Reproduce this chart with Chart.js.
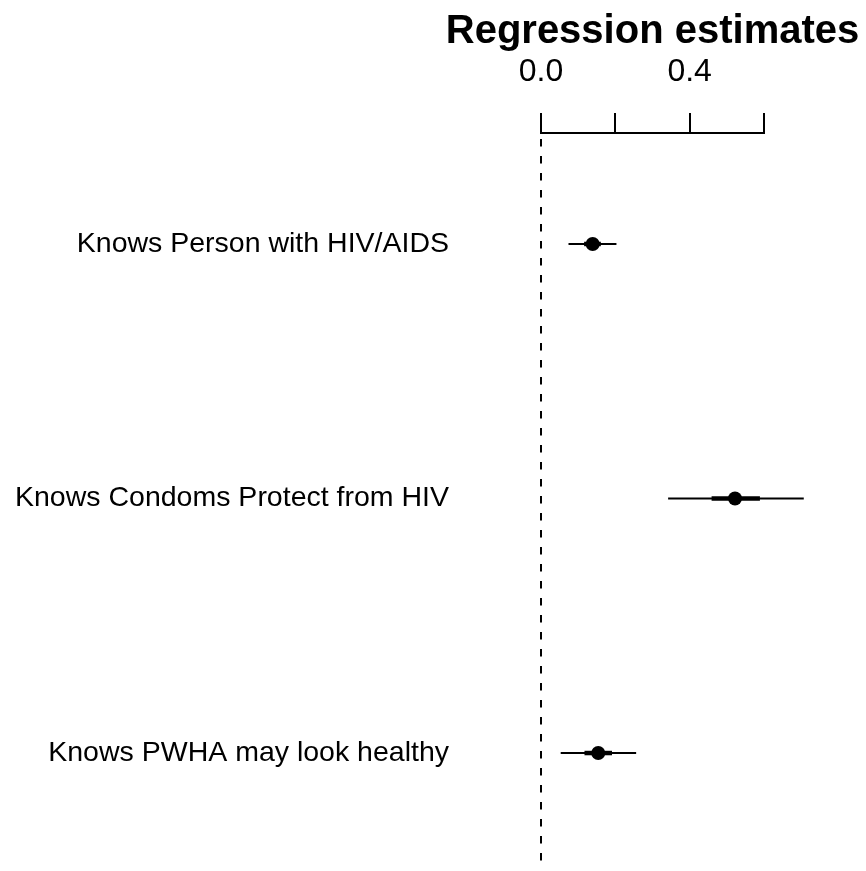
<!DOCTYPE html>
<html>
<head>
<meta charset="utf-8">
<script src="https://cdn.jsdelivr.net/npm/chart.js@4/dist/chart.umd.min.js"></script>
<style>
  html, body { margin: 0; padding: 0; background: #ffffff; }
  #wrap { width: 866px; height: 871px; }
</style>
</head>
<body>
<div id="wrap"><canvas id="c" width="866" height="871"></canvas></div>
<script>
// ---- data ----
const categories = ["Knows Person with HIV/AIDS", "Knows Condoms Protect from HIV", "Knows PWHA may look healthy"];
const estimates  = [0.139, 0.522, 0.154];
const outerLow   = [0.074, 0.342, 0.053];   // thin whisker (about ±2 SE)
const outerHigh  = [0.203, 0.707, 0.256];
const innerLow   = [0.116, 0.459, 0.117];   // thick whisker (about ±1 SE)
const innerHigh  = [0.161, 0.589, 0.191];
const xTickValues = [0.0, 0.2, 0.4, 0.6];
const xTickLabels = ["0.0", "", "0.4", ""];
const rowPositions = [1, 2, 3];
const yLimits = [0.564, 3.436];
const titleText = "Regression estimates";

const FONT = "'Liberation Sans', Arial, Helvetica, sans-serif";

const datasets = [];
// zero reference line
datasets.push({
  type: 'line',
  data: [{x: 0, y: yLimits[0]}, {x: 0, y: yLimits[1]}],
  borderColor: '#000', borderWidth: 2, borderDash: [7.5, 9.5], borderDashOffset: 11,
  pointRadius: 0, fill: false, clip: false, order: 5
});
categories.forEach((c, i) => {
  datasets.push({
    type: 'line',
    data: [{x: outerLow[i], y: rowPositions[i]}, {x: outerHigh[i], y: rowPositions[i]}],
    borderColor: '#000', borderWidth: 2, pointRadius: 0, fill: false, clip: false, order: 4
  });
  datasets.push({
    type: 'line',
    data: [{x: innerLow[i], y: rowPositions[i]}, {x: innerHigh[i], y: rowPositions[i]}],
    borderColor: '#000', borderWidth: 4.5, pointRadius: 0, fill: false, clip: false, order: 3
  });
});
datasets.push({
  type: 'scatter',
  data: estimates.map((v, i) => ({x: v, y: rowPositions[i]})),
  backgroundColor: '#000', borderColor: '#000', borderWidth: 0,
  pointRadius: 7, pointHoverRadius: 7, clip: false, order: 1
});

// Title centred over the plotting region (as in the R coefplot)
const titlePlugin = {
  id: 'centerTitle',
  afterDraw(chart) {
    const {ctx, chartArea} = chart;
    ctx.save();
    ctx.fillStyle = '#000';
    ctx.font = "bold 40px " + FONT;
    ctx.textAlign = 'center';
    ctx.textBaseline = 'alphabetic';
    ctx.fillText(titleText, (chartArea.left + chartArea.right) / 2, 43);
    ctx.restore();
  }
};

new Chart(document.getElementById('c'), {
  type: 'scatter',
  data: { datasets },
  plugins: [titlePlugin],
  options: {
    responsive: false,
    animation: false,
    devicePixelRatio: 1,
    layout: { padding: { left: 0, right: 102, top: 48, bottom: 0 } },
    plugins: {
      legend: { display: false },
      tooltip: { enabled: false },
      title: { display: false }
    },
    scales: {
      x: {
        type: 'linear',
        position: 'top',
        min: xTickValues[0],
        max: xTickValues[xTickValues.length - 1],
        afterBuildTicks: (s) => { s.ticks = xTickValues.map(v => ({ value: v })); },
        afterFit: (s) => { s.height = 85; },
        ticks: {
          autoSkip: false,
          maxRotation: 0,
          color: '#000',
          padding: 22,
          font: { family: FONT, size: 32 },
          callback: (v, idx) => xTickLabels[idx]
        },
        grid: {
          display: true, drawOnChartArea: false, drawTicks: true,
          tickLength: 20, color: '#000', lineWidth: 2
        },
        border: { display: true, color: '#000', width: 2 }
      },
      y: {
        type: 'linear',
        reverse: true,
        min: yLimits[0],
        max: yLimits[1],
        afterBuildTicks: (s) => { s.ticks = rowPositions.map(v => ({ value: v })); },
        afterFit: (s) => { s.width = 541; s.paddingTop = 0; s.paddingBottom = 0; },
        ticks: {
          autoSkip: false,
          color: '#000',
          padding: 92,
          font: { family: FONT, size: 28.5 },
          callback: (v, idx) => categories[idx]
        },
        grid: { display: false, drawTicks: false },
        border: { display: false }
      }
    }
  }
});
</script>
</body>
</html>
